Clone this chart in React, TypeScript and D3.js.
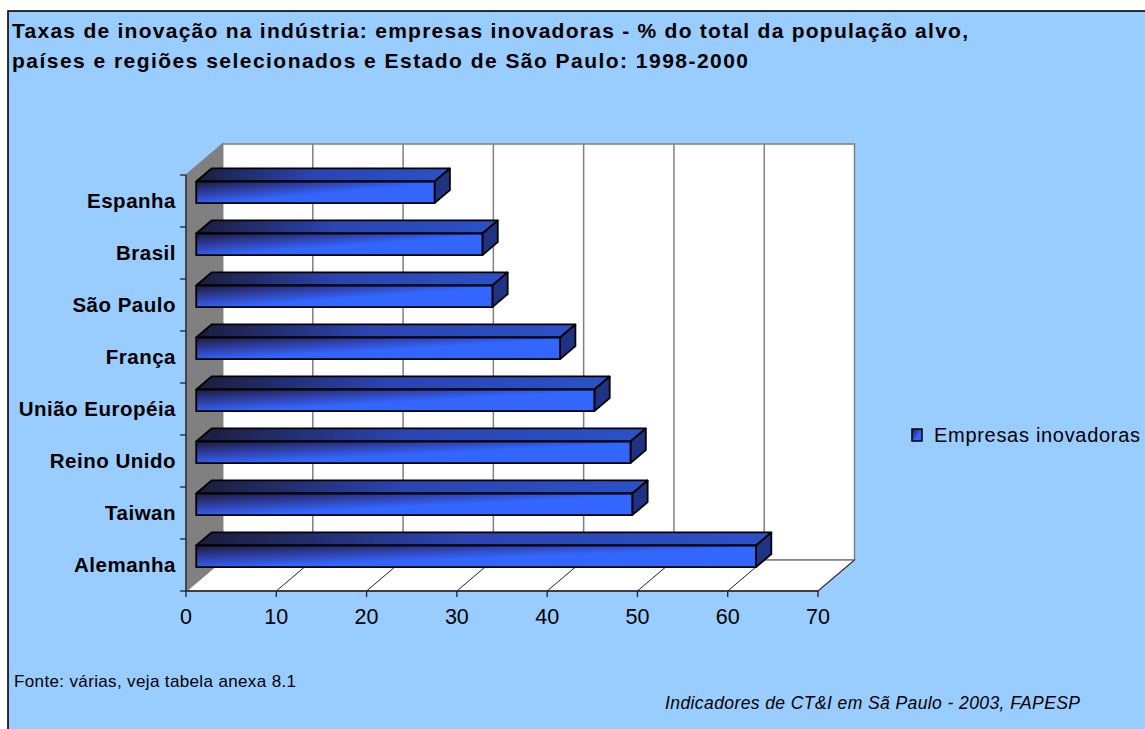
import { useEffect, useRef } from "react";
import * as d3 from "d3";

// data (% of innovating firms)
const categories = [
  "Espanha",
  "Brasil",
  "São Paulo",
  "França",
  "União Européia",
  "Reino Unido",
  "Taiwan",
  "Alemanha",
];
const values = [26.4, 31.7, 32.8, 40.3, 44.1, 48.1, 48.3, 62.0];
const xTicks = [0, 10, 20, 30, 40, 50, 60, 70];
const seriesName = "Empresas inovadoras";
const titleLines = [
  "Taxas de inovação na indústria: empresas inovadoras - % do total da população alvo,",
  "países e regiões selecionados e Estado de São Paulo: 1998-2000",
];
const sourceNote = "Fonte: várias, veja tabela anexa 8.1";
const creditNote = "Indicadores de CT&I em Sã Paulo - 2003, FAPESP";

const W = 1145;
const H = 729;
const FONT = "'Liberation Sans', Arial, Helvetica, sans-serif";

export default function App() {
  const svgRef = useRef<SVGSVGElement | null>(null);

  useEffect(() => {
    const svg = d3.select(svgRef.current);
    svg.selectAll("*").remove();

    // ---------- GEOMETRY ----------
    const plotLeft = 186;
    const plotRight = 818;
    const plotTop = 175;
    const plotBottom = 591;
    const DX = 36.5; // oblique depth
    const DY = 31;

    const x = d3.scaleLinear().domain([0, 70]).range([plotLeft, plotRight]);
    const y = d3.scaleBand<string>().domain(categories).range([plotTop, plotBottom]);
    const barH = y.bandwidth() / 2.4;
    const f0 = 0.28; // bar front depth
    const f1 = 0.7; // bar back depth

    const P = (v: number, yy: number, f: number): [number, number] => [x(v) + f * DX, yy - f * DY];

    // ---------- GRADIENTS ----------
    const defs = svg.append("defs");
    const gFront = defs.append("linearGradient").attr("id", "front")
      .attr("x1", 0).attr("y1", 0).attr("x2", 1).attr("y2", 1);
    gFront.append("stop").attr("offset", 0).attr("stop-color", "#1c1c3a");
    gFront.append("stop").attr("offset", 0.3).attr("stop-color", "#3040a8");
    gFront.append("stop").attr("offset", 0.55).attr("stop-color", "#3366ff");
    gFront.append("stop").attr("offset", 1).attr("stop-color", "#3366ff");

    const gTop = defs.append("linearGradient").attr("id", "top")
      .attr("x1", 0).attr("y1", 0).attr("x2", 1).attr("y2", 0);
    gTop.append("stop").attr("offset", 0).attr("stop-color", "#1c1c3a");
    gTop.append("stop").attr("offset", 0.45).attr("stop-color", "#2a44b0");
    gTop.append("stop").attr("offset", 1).attr("stop-color", "#2a52c8");

    const gLeg = defs.append("linearGradient").attr("id", "leg")
      .attr("x1", 0).attr("y1", 0).attr("x2", 1).attr("y2", 1);
    gLeg.append("stop").attr("offset", 0).attr("stop-color", "#1c1c3a");
    gLeg.append("stop").attr("offset", 0.6).attr("stop-color", "#3366ff");
    gLeg.append("stop").attr("offset", 1).attr("stop-color", "#3366ff");

    // ---------- BACKGROUND ----------
    svg.append("rect").attr("width", W).attr("height", H).attr("fill", "#ffffff");
    svg.append("rect")
      .attr("x", 8).attr("y", 11).attr("width", W + 20).attr("height", H + 20)
      .attr("fill", "#99ccff").attr("stroke", "#000").attr("stroke-width", 1.6);

    // ---------- WALLS ----------
    const line = d3.line();
    // back wall
    svg.append("path")
      .attr("d", line([P(0, plotTop, 1), P(70, plotTop, 1), P(70, plotBottom, 1), P(0, plotBottom, 1)]) + "Z")
      .attr("fill", "#fff").attr("stroke", "#808080").attr("stroke-width", 1.5);
    // floor
    svg.append("path")
      .attr("d", line([P(0, plotBottom, 0), P(70, plotBottom, 0), P(70, plotBottom, 1), P(0, plotBottom, 1)]) + "Z")
      .attr("fill", "#fff").attr("stroke", "#808080").attr("stroke-width", 1.5);
    // side wall
    svg.append("path")
      .attr("d", line([P(0, plotBottom, 0), P(0, plotBottom, 1), P(0, plotTop, 1), P(0, plotTop, 0)]) + "Z")
      .attr("fill", "#808080").attr("stroke", "#808080").attr("stroke-width", 1.5);

    // gridlines on back wall and floor
    xTicks.slice(1, -1).forEach(t => {
      svg.append("path")
        .attr("d", line([P(t, plotTop, 1), P(t, plotBottom, 1)]))
        .attr("stroke", "#808080").attr("stroke-width", 1.5);
    });
    xTicks.slice(1).forEach(t => {
      svg.append("path")
        .attr("d", line([P(t, plotBottom, 0), P(t, plotBottom, 1)]))
        .attr("stroke", "#222").attr("stroke-width", 1);
    });

    // ---------- AXES ----------
    const ax = svg.append("g").attr("stroke", "#222").attr("stroke-width", 1.3);
    ax.append("line").attr("x1", plotLeft).attr("x2", plotLeft).attr("y1", plotTop).attr("y2", plotBottom);
    ax.append("line").attr("x1", plotLeft).attr("x2", plotRight).attr("y1", plotBottom).attr("y2", plotBottom);
    categories.forEach((c, i) => {
      const yy = (y(c) as number);
      ax.append("line").attr("x1", plotLeft - 6).attr("x2", plotLeft).attr("y1", yy).attr("y2", yy);
      if (i === categories.length - 1) {
        ax.append("line").attr("x1", plotLeft - 6).attr("x2", plotLeft).attr("y1", yy + y.bandwidth()).attr("y2", yy + y.bandwidth());
      }
    });
    xTicks.forEach(t => {
      ax.append("line").attr("x1", x(t)).attr("x2", x(t)).attr("y1", plotBottom).attr("y2", plotBottom + 6);
    });

    // ---------- BARS ----------
    categories.forEach((c, i) => {
      const yc = (y(c) as number) + y.bandwidth() / 2;
      const v = values[i];
      const yT = yc - barH / 2;
      const yB = yc + barH / 2;
      const g = svg.append("g").attr("stroke", "#000").attr("stroke-width", 1.8).attr("stroke-linejoin", "round");
      // top face
      g.append("path")
        .attr("d", line([P(0, yT, f0), P(v, yT, f0), P(v, yT, f1), P(0, yT, f1)]) + "Z")
        .attr("fill", "url(#top)");
      // end face
      g.append("path")
        .attr("d", line([P(v, yT, f0), P(v, yT, f1), P(v, yB, f1), P(v, yB, f0)]) + "Z")
        .attr("fill", "#1f3283");
      // front face
      const [fx0, fy0] = P(0, yT, f0);
      const [fx1] = P(v, yT, f0);
      g.append("rect")
        .attr("x", fx0).attr("y", fy0).attr("width", fx1 - fx0).attr("height", barH)
        .attr("fill", "url(#front)");
    });

    // ---------- LABELS ----------
    svg.append("g")
      .selectAll("text")
      .data(categories)
      .join("text")
      .attr("x", plotLeft - 10)
      .attr("y", c => (y(c) as number) + y.bandwidth() / 2 + 7)
      .attr("text-anchor", "end")
      .attr("font-family", FONT)
      .attr("font-weight", "bold")
      .attr("font-size", 20.5)
      .attr("letter-spacing", 0.5)
      .attr("fill", "#000")
      .text(c => c);

    svg.append("g")
      .selectAll("text")
      .data(xTicks)
      .join("text")
      .attr("x", t => x(t))
      .attr("y", 624)
      .attr("text-anchor", "middle")
      .attr("font-family", FONT)
      .attr("font-size", 21.5)
      .attr("fill", "#000")
      .text(t => String(t));

    // ---------- TITLE ----------
    const titleWidths = [956, 736];
    titleLines.forEach((t, i) => {
      svg.append("text")
        .attr("x", 12).attr("y", 38 + i * 30)
        .attr("font-family", FONT).attr("font-weight", "bold").attr("font-size", 21)
        .attr("textLength", titleWidths[i]).attr("lengthAdjust", "spacing")
        .attr("fill", "#000")
        .text(t);
    });

    // ---------- LEGEND ----------
    svg.append("rect")
      .attr("x", 912).attr("y", 429).attr("width", 10).attr("height", 12)
      .attr("fill", "url(#leg)").attr("stroke", "#000").attr("stroke-width", 1.5);
    svg.append("text")
      .attr("x", 934).attr("y", 442)
      .attr("font-family", FONT).attr("font-size", 20)
      .attr("textLength", 206).attr("lengthAdjust", "spacing")
      .attr("fill", "#000")
      .text(seriesName);

    // ---------- NOTES ----------
    svg.append("text")
      .attr("x", 14).attr("y", 687)
      .attr("font-family", FONT).attr("font-size", 17)
      .attr("textLength", 282).attr("lengthAdjust", "spacing")
      .attr("fill", "#000")
      .text(sourceNote);
    svg.append("text")
      .attr("x", 665).attr("y", 709)
      .attr("font-family", FONT).attr("font-size", 17.5).attr("font-style", "italic")
      .attr("textLength", 415).attr("lengthAdjust", "spacing")
      .attr("fill", "#000")
      .text(creditNote);
  }, []);

  return (
    <svg
      ref={svgRef}
      width={W}
      height={H}
      style={{ position: "absolute", left: 0, top: 0, display: "block" }}
    />
  );
}
